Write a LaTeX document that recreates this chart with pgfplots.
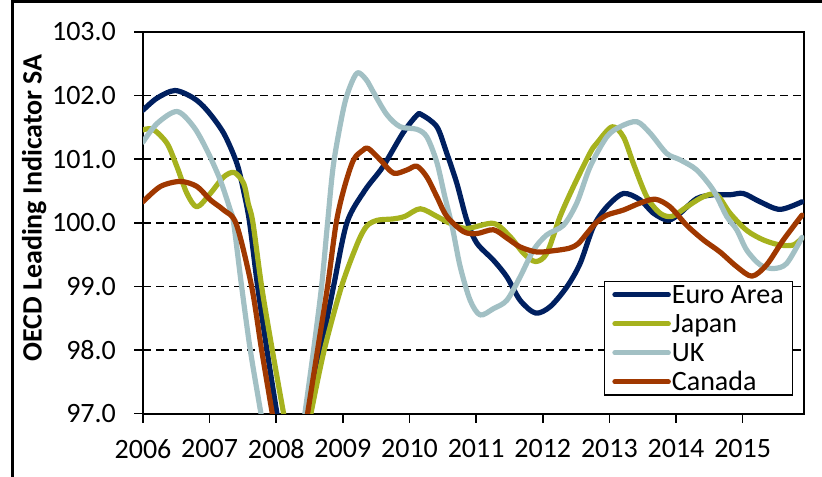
\documentclass[border=0pt]{standalone}
\usepackage{fontspec}
\setmainfont{Carlito}
\usepackage{pgfplots}
\pgfplotsset{compat=1.18}

\definecolor{euro}{RGB}{0,32,96}
\definecolor{japan}{RGB}{166,178,30}
\definecolor{uk}{RGB}{162,192,196}
\definecolor{canada}{RGB}{160,56,0}

\begin{document}
\begin{tikzpicture}
\useasboundingbox (0,0) rectangle (411pt,238pt);
% frame of the original picture (only top and left edges visible)
\draw[line width=1.5pt] (6.25pt,-2pt) -- (6.25pt,237.4pt) -- (413pt,237.4pt);
\node[rotate=90, anchor=base, font=\fontsize{14}{16}\selectfont\bfseries] at (20.85pt,134pt) {OECD Leading Indicator SA};

\begin{axis}[
    at={(71.5pt,31.25pt)}, anchor=south west,
    scale only axis, width=330.5pt, height=190.75pt,
    xmin=2006, xmax=2015.92, ymin=97, ymax=103,
    xtick={2006,2007,...,2015}, ytick={97,98,...,103},
    tick align=outside, major tick length=4.5pt, tick pos=left,
    tick style={black, line width=0.8pt},
    axis line style={line width=1pt},
    ymajorgrids, major grid style={black, line width=0.75pt, dash pattern=on 4pt off 2.5pt},
    ticklabel style={font=\fontsize{14}{16}\selectfont},
    /pgf/number format/assume math mode=true,
    xticklabel style={/pgf/number format/1000 sep={}, yshift=-5pt},
    yticklabel style={/pgf/number format/fixed, /pgf/number format/fixed zerofill, /pgf/number format/precision=1, xshift=-5.5pt},
    every axis plot/.append style={line width=2.6pt, smooth, line cap=round, line join=round},
    legend cell align=left,
    legend image code/.code={\draw[#1] (0pt,0pt) -- (26.7pt,0pt);},
    legend style={at={(axis description cs:1,0)}, anchor=south east, xshift=-5.5pt, yshift=9pt,
        draw=black, line width=0.75pt, fill=white, font=\fontsize{14}{16}\selectfont,
        inner xsep=3.8pt, inner ysep=0pt, row sep=1.5pt,
        nodes={inner sep=0.5pt, text height=10.25pt, text depth=1.75pt}},
]

\addplot[euro] coordinates {
 (2006.00,101.77) (2006.21,101.96) (2006.48,102.08) (2006.76,101.96) (2006.96,101.77)
 (2007.21,101.41) (2007.41,100.93) (2007.52,100.45) (2007.60,100.00) (2007.72,99.00)
 (2007.86,98.00) (2008.01,97.00) (2008.12,96.30) (2008.25,95.80) (2008.38,96.30)
 (2008.49,97.00) (2008.67,98.00) (2008.86,99.00) (2009.06,100.00) (2009.33,100.51)
 (2009.60,100.88) (2009.90,101.41) (2010.11,101.69) (2010.18,101.70) (2010.41,101.51)
 (2010.56,101.09) (2010.71,100.62) (2010.86,100.04) (2011.01,99.68) (2011.26,99.41)
 (2011.46,99.15) (2011.66,98.78) (2011.89,98.58) (2012.11,98.68) (2012.36,98.99)
 (2012.56,99.36) (2012.76,99.94) (2012.96,100.25) (2013.21,100.46) (2013.46,100.36)
 (2013.66,100.15) (2013.88,100.04) (2014.06,100.15) (2014.31,100.38) (2014.56,100.44)
 (2014.81,100.44) (2015.01,100.46) (2015.26,100.33) (2015.56,100.21) (2015.89,100.33)
};
\addlegendentry{Euro Area}

\addplot[japan] coordinates {
 (2006.00,101.46) (2006.15,101.47) (2006.36,101.25) (2006.51,100.88) (2006.66,100.46)
 (2006.81,100.25) (2007.01,100.46) (2007.21,100.72) (2007.37,100.79) (2007.51,100.62)
 (2007.58,100.30) (2007.65,100.00) (2007.78,99.00) (2007.94,98.00) (2008.11,97.00)
 (2008.20,96.50) (2008.32,96.10) (2008.43,96.50) (2008.52,97.00) (2008.72,98.00)
 (2008.98,99.00) (2009.22,99.68) (2009.36,99.95) (2009.52,100.04) (2009.75,100.06)
 (2009.93,100.10) (2010.16,100.22) (2010.41,100.10) (2010.61,99.99) (2010.86,99.91)
 (2011.26,99.99) (2011.51,99.78) (2011.71,99.52) (2011.89,99.39) (2012.06,99.52)
 (2012.26,100.10) (2012.46,100.57) (2012.71,101.10) (2012.81,101.25) (2013.04,101.51)
 (2013.21,101.35) (2013.36,100.93) (2013.56,100.41) (2013.76,100.15) (2013.94,100.10)
 (2014.16,100.25) (2014.41,100.41) (2014.61,100.44) (2014.81,100.15) (2015.06,99.88)
 (2015.31,99.73) (2015.56,99.65) (2015.76,99.65) (2015.89,99.76)
};
\addlegendentry{Japan}

\addplot[uk] coordinates {
 (2006.00,101.27) (2006.21,101.56) (2006.51,101.75) (2006.76,101.51) (2006.96,101.14)
 (2007.16,100.67) (2007.31,100.20) (2007.36,100.00) (2007.48,99.00) (2007.61,98.00)
 (2007.77,97.00) (2007.90,96.20) (2008.05,95.40) (2008.20,95.30) (2008.33,96.20)
 (2008.43,97.00) (2008.56,98.00) (2008.68,99.00) (2008.77,100.00) (2008.86,100.93)
 (2009.01,101.80) (2009.11,102.15) (2009.22,102.36) (2009.35,102.25) (2009.46,102.05)
 (2009.66,101.70) (2009.86,101.51) (2010.11,101.47) (2010.26,101.35) (2010.41,100.95)
 (2010.53,100.41) (2010.64,99.94) (2010.76,99.31) (2010.91,98.78) (2011.06,98.55)
 (2011.26,98.65) (2011.46,98.78) (2011.66,99.15) (2011.86,99.57) (2012.06,99.81)
 (2012.31,99.96) (2012.51,100.31) (2012.71,100.88) (2012.96,101.35) (2013.16,101.51)
 (2013.41,101.59) (2013.61,101.41) (2013.86,101.09) (2014.06,100.99) (2014.31,100.83)
 (2014.56,100.51) (2014.76,100.10) (2014.91,99.89) (2015.06,99.57) (2015.26,99.34)
 (2015.46,99.28) (2015.66,99.36) (2015.89,99.77)
};
\addlegendentry{UK}

\addplot[canada] coordinates {
 (2006.00,100.33) (2006.26,100.57) (2006.56,100.65) (2006.81,100.57) (2007.01,100.36)
 (2007.21,100.20) (2007.40,99.98) (2007.63,99.00) (2007.78,98.00) (2007.94,97.00)
 (2008.05,96.30) (2008.20,95.60) (2008.35,96.20) (2008.47,97.00) (2008.62,98.00)
 (2008.77,99.00) (2008.90,100.00) (2009.02,100.55) (2009.16,100.99) (2009.30,101.14)
 (2009.38,101.17) (2009.56,100.99) (2009.76,100.78) (2009.96,100.83) (2010.11,100.89)
 (2010.26,100.72) (2010.41,100.41) (2010.56,100.10) (2010.81,99.86) (2011.01,99.83)
 (2011.26,99.89) (2011.46,99.76) (2011.66,99.62) (2011.91,99.54) (2012.16,99.56)
 (2012.40,99.60) (2012.53,99.67) (2012.66,99.83) (2012.80,100.00) (2012.96,100.12)
 (2013.21,100.20) (2013.46,100.31) (2013.69,100.37) (2013.91,100.25) (2014.16,99.96)
 (2014.41,99.73) (2014.66,99.54) (2014.91,99.31) (2015.14,99.16) (2015.36,99.34)
 (2015.61,99.73) (2015.89,100.12)
};
\addlegendentry{Canada}

\end{axis}
\end{tikzpicture}
\end{document}
